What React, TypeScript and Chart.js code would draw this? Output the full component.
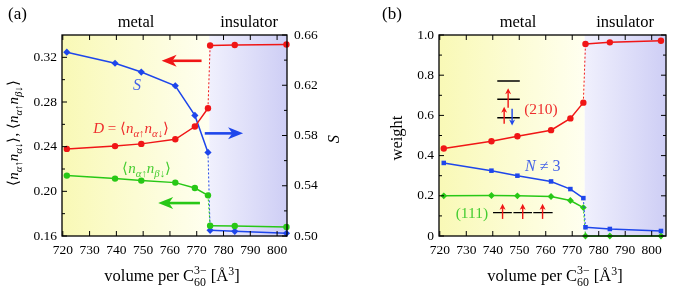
import React, { useEffect, useRef } from 'react';
import { Chart, registerables } from 'chart.js';
Chart.register(...registerables);

// ---------- data ----------
const volumes = [721.5, 739.5, 749.3, 762, 769.3, 774.2, 775, 784.2, 803.5];
const doubleOcc = [0.238, 0.2405, 0.2425, 0.2466, 0.258, 0.2744, 0.3306, 0.331, 0.3315];
const interOcc = [0.2141, 0.2114, 0.2096, 0.2078, 0.203, 0.1964, 0.1692, 0.169, 0.1681];
const entropyS = [0.6463, 0.6375, 0.6305, 0.6196, 0.596, 0.5665, 0.5045, 0.5037, 0.5022];
const weight210 = [0.435, 0.4715, 0.4965, 0.5265, 0.585, 0.6635, 0.955, 0.9635, 0.9715];
const weightNot3 = [0.3635, 0.325, 0.3, 0.2715, 0.2335, 0.1885, 0.0435, 0.035, 0.025];
const weight111 = [0.2, 0.2015, 0.2, 0.1965, 0.1765, 0.1415, 0, 0, 0];

const xTicks = [720, 730, 740, 750, 760, 770, 780, 790, 800];
const occTicks = [0.16, 0.2, 0.24, 0.28, 0.32];
const occMinor = [0.18, 0.22, 0.26, 0.3];
const sTicks = [0.5, 0.54, 0.58, 0.62, 0.66];
const sMinor = [0.52, 0.56, 0.6, 0.64];
const wTicks = [0, 0.2, 0.4, 0.6, 0.8, 1.0];
const wMinor = [0.1, 0.3, 0.5, 0.7, 0.9];

const PHASE_BOUNDARY = 774.7;
const JUMP_INDEX = 5;

// ---------- style ----------
const RED = 'rgb(240,22,22)';
const BLUE = 'rgb(30,70,235)';
const GREEN = 'rgb(40,200,22)';
const RED_T = 'rgb(238,45,45)';
const BLUE_T = 'rgb(70,100,232)';
const GREEN_T = 'rgb(70,205,50)';
const FAM = '"Liberation Serif", "Times New Roman", serif';

type Seg = { t: string; i?: boolean; s?: 'sub' | 'sup'; over?: string };

function drawRich(ctx: CanvasRenderingContext2D, segs: Seg[], x: number, y: number, size: number,
  color: string, align: 'left' | 'center' | 'right' = 'center', rot = 0) {
  ctx.save();
  ctx.translate(x, y);
  ctx.rotate(rot);
  const small = size * 0.72;
  const fontOf = (g: Seg, sz: number) => `${g.i ? 'italic ' : ''}${sz}px ${FAM}`;
  let total = 0;
  const ws = segs.map((g) => {
    ctx.font = fontOf(g, g.s ? small : size);
    let w = ctx.measureText(g.t).width;
    if (g.over) { ctx.font = fontOf(g, small); w = Math.max(w, ctx.measureText(g.over).width); }
    total += w;
    return w;
  });
  let cx = align === 'center' ? -total / 2 : align === 'right' ? -total : 0;
  ctx.fillStyle = color;
  ctx.textBaseline = 'alphabetic';
  ctx.textAlign = 'left';
  const base = size * 0.32;
  segs.forEach((g, k) => {
    ctx.font = fontOf(g, g.s ? small : size);
    const dy = g.s === 'sub' ? size * 0.28 : g.s === 'sup' ? -size * 0.38 : 0;
    ctx.fillText(g.t, cx, base + dy);
    if (g.over) { ctx.font = fontOf(g, small); ctx.fillText(g.over, cx, base - size * 0.42); }
    cx += ws[k];
  });
  ctx.restore();
}

function drawArrow(ctx: CanvasRenderingContext2D, x0: number, y0: number, x1: number, y1: number,
  color: string, lw: number, hl: number, hw: number) {
  const ang = Math.atan2(y1 - y0, x1 - x0);
  ctx.save();
  ctx.strokeStyle = color; ctx.fillStyle = color; ctx.lineWidth = lw;
  ctx.beginPath();
  ctx.moveTo(x0, y0);
  ctx.lineTo(x1 - Math.cos(ang) * hl * 0.7, y1 - Math.sin(ang) * hl * 0.7);
  ctx.stroke();
  ctx.translate(x1, y1); ctx.rotate(ang);
  ctx.beginPath();
  ctx.moveTo(0, 0); ctx.lineTo(-hl, -hw); ctx.lineTo(-hl * 0.72, 0); ctx.lineTo(-hl, hw);
  ctx.closePath(); ctx.fill();
  ctx.restore();
}

function paintBackground(chart: any) {
  const { ctx, chartArea: a, scales } = chart;
  const xb = scales.x.getPixelForValue(PHASE_BOUNDARY);
  ctx.save();
  let g = ctx.createLinearGradient(a.left, 0, xb, 0);
  g.addColorStop(0, 'rgb(249,249,182)');
  g.addColorStop(1, 'rgb(255,255,240)');
  ctx.fillStyle = g;
  ctx.fillRect(a.left, a.top, xb - a.left, a.bottom - a.top);
  g = ctx.createLinearGradient(xb, 0, a.right, 0);
  g.addColorStop(0, 'rgb(240,240,253)');
  g.addColorStop(1, 'rgb(206,206,245)');
  ctx.fillStyle = g;
  ctx.fillRect(xb, a.top, a.right - xb, a.bottom - a.top);
  ctx.restore();
}

function drawFrameAndTicks(chart: any, left: { id: string; major: number[]; minor: number[] },
  right: { id: string; major: number[]; minor: number[] }) {
  const { ctx, chartArea: a, scales } = chart;
  ctx.save();
  ctx.strokeStyle = '#000';
  ctx.lineWidth = 1;
  const M = 5, m = 3;
  ctx.beginPath();
  xTicks.forEach((v) => {
    const p = scales.x.getPixelForValue(v);
    ctx.moveTo(p, a.bottom); ctx.lineTo(p, a.bottom - M);
    ctx.moveTo(p, a.top); ctx.lineTo(p, a.top + M);
  });
  const ys = (id: string, vals: number[], len: number, side: 'l' | 'r') => vals.forEach((v) => {
    const p = scales[id].getPixelForValue(v);
    if (side === 'l') { ctx.moveTo(a.left, p); ctx.lineTo(a.left + len, p); }
    else { ctx.moveTo(a.right, p); ctx.lineTo(a.right - len, p); }
  });
  ys(left.id, left.major, M, 'l'); ys(left.id, left.minor, m, 'l');
  ys(right.id, right.major, M, 'r'); ys(right.id, right.minor, m, 'r');
  ctx.stroke();
  ctx.lineWidth = 1.3;
  ctx.strokeRect(a.left, a.top, a.right - a.left, a.bottom - a.top);
  ctx.restore();
}

const xTitle: Seg[] = [{ t: 'volume per C' }, { t: '60', s: 'sub', over: '3\u2212' }, { t: ' [Å' }, { t: '3', s: 'sup' }, { t: ']' }];
const nn = (a: string, b: string): Seg[] => [{ t: 'n', i: true }, { t: a, s: 'sub', i: true }, { t: 'n', i: true }, { t: b, s: 'sub', i: true }];

function series(values: number[], color: string, style: string, radius: number, yAxisID = 'y') {
  return {
    data: volumes.map((x, i) => ({ x, y: values[i] })),
    yAxisID,
    borderColor: color,
    backgroundColor: color,
    pointBackgroundColor: color,
    pointBorderColor: color,
    pointStyle: style,
    pointRadius: radius,
    pointBorderWidth: 0,
    borderWidth: 1.5,
    clip: false,
    segment: {
      borderDash: (c: any) => (c.p0DataIndex === JUMP_INDEX ? [2, 2] : undefined),
      borderWidth: (c: any) => (c.p0DataIndex === JUMP_INDEX ? 1 : undefined),
    },
  };
}

const tickFont = { family: FAM, size: 13.5 };

function xScale(max: number) {
  return {
    type: 'linear', min: 719.7, max,
    afterBuildTicks: (s: any) => { s.ticks = xTicks.map((v) => ({ value: v })); },
    ticks: { font: tickFont, color: '#000', padding: 6, maxRotation: 0, autoSkip: false, callback: (v: any) => String(v) },
    grid: { display: false, drawTicks: false, tickLength: 0 },
    border: { display: false },
    afterFit: (s: any) => { s.height = 56; },
  };
}

function yScale(position: string, min: number, max: number, ticks: number[], fmt: (v: number) => string, width: number, padding: number) {
  return {
    type: 'linear', position, min, max,
    afterBuildTicks: (s: any) => { s.ticks = ticks.map((v) => ({ value: v })); },
    ticks: { font: tickFont, color: '#000', padding, autoSkip: false, callback: (v: any) => fmt(Number(v)) },
    grid: { display: false, drawTicks: false, tickLength: 0 },
    border: { display: false },
    afterFit: (s: any) => { s.width = width; },
  };
}

function configA(): any {
  return {
    type: 'line',
    data: {
      datasets: [
        series(doubleOcc, RED, 'circle', 3.2, 'y'),
        series(interOcc, GREEN, 'circle', 3.2, 'y'),
        series(entropyS, BLUE, 'rectRot', 3.6, 'y1'),
      ],
    },
    options: {
      responsive: false, animation: false, devicePixelRatio: 1, events: [],
      layout: { padding: { top: 35, left: 0, right: 0, bottom: 0 } },
      plugins: { legend: { display: false }, tooltip: { enabled: false } },
      scales: {
        x: xScale(803.7),
        y: yScale('left', 0.16, 0.34, occTicks, (v) => v.toFixed(2), 62, 5),
        y1: yScale('right', 0.5, 0.66, sTicks, (v) => v.toFixed(2), 53, 7),
      },
    },
    plugins: [{
      id: 'decorA',
      beforeDatasetsDraw: (c: any) => paintBackground(c),
      afterDatasetsDraw: (c: any) => {
        const { ctx, scales } = c;
        drawFrameAndTicks(c, { id: 'y', major: occTicks, minor: occMinor }, { id: 'y1', major: sTicks, minor: sMinor });
        const X = (v: number) => scales.x.getPixelForValue(v);
        const Y = (v: number) => scales.y.getPixelForValue(v);
        const Y1 = (v: number) => scales.y1.getPixelForValue(v);
        drawArrow(ctx, X(771.8), Y(0.3169), X(756.9), Y(0.3169), RED, 2.6, 15, 6);
        drawArrow(ctx, X(773), Y1(0.5817), X(787.3), Y1(0.5817), BLUE, 2.6, 15, 6);
        drawArrow(ctx, X(771.2), Y(0.1895), X(755.6), Y(0.1895), GREEN, 2.6, 15, 6);
        drawRich(ctx, [{ t: 'S', i: true }], X(747.7), Y1(0.62), 16, BLUE_T);
        drawRich(ctx, [{ t: 'D', i: true }, { t: ' = ⟨' }, ...nn('α↑', 'α↓'), { t: '⟩' }], X(745.5), Y(0.2565), 15, RED_T);
        drawRich(ctx, [{ t: '⟨' }, ...nn('α↑', 'β↓'), { t: '⟩' }], X(751.3), Y(0.221), 15, GREEN_T);
      },
      afterDraw: (c: any) => {
        const { ctx } = c;
        drawRich(ctx, [{ t: '(a)' }], 8, 14, 17, '#000', 'left');
        drawRich(ctx, [{ t: 'metal' }], 136, 21.5, 16.5, '#000');
        drawRich(ctx, [{ t: 'insulator' }], 249, 21.5, 16.5, '#000');
        drawRich(ctx, xTitle, 172, 276, 16.5, '#000');
        drawRich(ctx, [{ t: '⟨' }, ...nn('α↑', 'α↓'), { t: '⟩, ⟨' }, ...nn('α↑', 'β↓'), { t: '⟩' }], 13, 133, 15, '#000', 'center', -Math.PI / 2);
        drawRich(ctx, [{ t: 'S', i: true }], 334, 139, 16.5, '#000', 'center', -Math.PI / 2);
      },
    }],
  };
}

function configB(): any {
  return {
    type: 'line',
    data: {
      datasets: [
        series(weight210, RED, 'circle', 3.2),
        series(weightNot3, BLUE, 'rect', 3.2),
        series(weight111, GREEN, 'rectRot', 3.4),
      ],
    },
    options: {
      responsive: false, animation: false, devicePixelRatio: 1, events: [],
      layout: { padding: { top: 35, left: 0, right: 15, bottom: 0 } },
      plugins: { legend: { display: false }, tooltip: { enabled: false } },
      scales: {
        x: xScale(805.4),
        y: yScale('left', 0, 1, wTicks, (v) => (v === 0 ? '0' : v.toFixed(1)), 99, 5),
      },
    },
    plugins: [{
      id: 'decorB',
      beforeDatasetsDraw: (c: any) => paintBackground(c),
      afterDatasetsDraw: (c: any) => {
        const { ctx, scales } = c;
        drawFrameAndTicks(c, { id: 'y', major: wTicks, minor: wMinor }, { id: 'y', major: wTicks, minor: wMinor });
        const X = (v: number) => scales.x.getPixelForValue(v);
        const Y = (v: number) => scales.y.getPixelForValue(v);
        ctx.save();
        ctx.strokeStyle = '#000';
        ctx.lineWidth = 1.6;
        ctx.beginPath();
        [0.7715, 0.68, 0.5885].forEach((lv) => { ctx.moveTo(X(741.7), Y(lv)); ctx.lineTo(X(750.2), Y(lv)); });
        ctx.stroke();
        ctx.lineWidth = 1.3;
        ctx.beginPath();
        [[740.1, 747.2], [747.8, 754.8], [755.3, 762.6]].forEach(([a, b]) => { ctx.moveTo(X(a), Y(0.1165)); ctx.lineTo(X(b), Y(0.1165)); });
        ctx.stroke();
        ctx.restore();
        drawArrow(ctx, X(745.8), Y(0.6385), X(745.8), Y(0.735), RED, 1.4, 6, 3);
        drawArrow(ctx, X(744.3), Y(0.5585), X(744.3), Y(0.6435), RED, 1.4, 6, 3);
        drawArrow(ctx, X(747.3), Y(0.6335), X(747.3), Y(0.55), BLUE, 1.4, 6, 3);
        [743.7, 751.3, 758.8].forEach((ax) => drawArrow(ctx, X(ax), Y(0.085), X(ax), Y(0.16), RED, 1.4, 6, 3));
        drawRich(ctx, [{ t: '(210)' }], X(758.2), Y(0.6335), 15.5, RED_T);
        drawRich(ctx, [{ t: '(111)' }], X(732.1), Y(0.1165), 15.5, GREEN_T);
        drawRich(ctx, [{ t: 'N', i: true }, { t: ' ≠ 3' }], X(758.9), Y(0.35), 16, BLUE_T);
      },
      afterDraw: (c: any) => {
        const { ctx } = c;
        drawRich(ctx, [{ t: '(b)' }], 42, 14, 17, '#000', 'left');
        drawRich(ctx, [{ t: 'metal' }], 178, 21.5, 16.5, '#000');
        drawRich(ctx, [{ t: 'insulator' }], 285, 21.5, 16.5, '#000');
        drawRich(ctx, xTitle, 215, 276, 16.5, '#000');
        drawRich(ctx, [{ t: 'weight' }], 57, 138, 16.5, '#000', 'center', -Math.PI / 2);
      },
    }],
  };
}

export default function App() {
  const refA = useRef<HTMLCanvasElement>(null);
  const refB = useRef<HTMLCanvasElement>(null);
  useEffect(() => {
    const a = new Chart(refA.current as HTMLCanvasElement, configA());
    const b = new Chart(refB.current as HTMLCanvasElement, configB());
    return () => { a.destroy(); b.destroy(); };
  }, []);
  return (
    <div style={{ position: 'absolute', left: 0, top: 0, width: 681, height: 292, background: '#fff' }}>
      <canvas ref={refA} width={340} height={292} style={{ position: 'absolute', left: 0, top: 0, width: 340, height: 292 }} />
      <canvas ref={refB} width={341} height={292} style={{ position: 'absolute', left: 340, top: 0, width: 341, height: 292 }} />
    </div>
  );
}
